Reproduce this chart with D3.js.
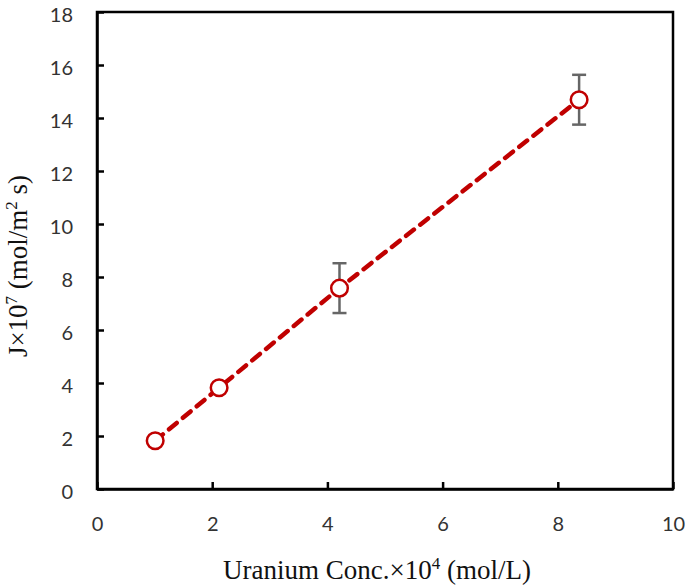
<!DOCTYPE html>
<html><head><meta charset="utf-8">
<script src="https://cdn.jsdelivr.net/npm/d3@7"></script>
<style>body{margin:0;background:#fff}</style>
</head><body>
<svg id="c" width="685" height="587"></svg>
<script>
const xValues = [1.01, 2.12, 4.21, 8.37];
const yValues = [1.82, 3.82, 7.58, 14.69];
const yErrors = [0, 0, 0.94, 0.94];
const xTicks = [0, 2, 4, 6, 8, 10];
const yTicks = [0, 2, 4, 6, 8, 10, 12, 14, 16, 18];

const svg = d3.select('#c');
const L = 97, R = 673, T = 12, B = 489;
const x = d3.scaleLinear().domain([0, 10]).range([L, R]);
const y = d3.scaleLinear().domain([0, 18]).range([B, T]);

// frame
svg.append('rect').attr('x', L).attr('y', T).attr('width', R - L).attr('height', B - T)
  .attr('fill', 'none').attr('stroke', '#000').attr('stroke-width', 2.5);

const tickFont = 'Lato, "Open Sans", sans-serif';
const xAxis = svg.append('g').attr('transform', `translate(0,${B})`)
  .call(d3.axisBottom(x).tickValues(xTicks).tickSize(-7).tickPadding(28).tickSizeOuter(0));
const yAxis = svg.append('g').attr('transform', `translate(${L},0)`)
  .call(d3.axisLeft(y).tickValues(yTicks).tickSize(-7).tickPadding(24).tickSizeOuter(0));
[xAxis, yAxis].forEach(g => {
  g.select('.domain').attr('stroke', '#000').attr('stroke-width', 2.5);
  g.selectAll('.tick line').attr('stroke', '#000').attr('stroke-width', 2.5);
  g.selectAll('.tick text').attr('fill', '#333').style('font-family', tickFont).style('font-size', '20px');
});
yAxis.selectAll('.tick text').attr('dy', '0.45em');

// line
const pts = xValues.map((d, i) => [d, yValues[i]]);
svg.append('path').datum(pts)
  .attr('d', d3.line().x(d => x(d[0])).y(d => y(d[1])))
  .attr('fill', 'none').attr('stroke', '#C00000').attr('stroke-width', 4.5)
  .attr('stroke-dasharray', '10,8').attr('stroke-linecap', 'round');

// error bars
const eb = svg.append('g').attr('stroke', '#666').attr('stroke-width', 2.5);
xValues.forEach((xv, i) => {
  if (!yErrors[i]) return;
  const cx = x(xv), y1 = y(yValues[i] + yErrors[i]), y2 = y(yValues[i] - yErrors[i]);
  eb.append('line').attr('x1', cx).attr('x2', cx).attr('y1', y1).attr('y2', y2);
  eb.append('line').attr('x1', cx - 7).attr('x2', cx + 7).attr('y1', y1).attr('y2', y1);
  eb.append('line').attr('x1', cx - 7).attr('x2', cx + 7).attr('y1', y2).attr('y2', y2);
});

// markers
svg.append('g').selectAll('circle').data(pts).join('circle')
  .attr('cx', d => x(d[0])).attr('cy', d => y(d[1])).attr('r', 8.3)
  .attr('fill', '#fff').attr('stroke', '#C00000').attr('stroke-width', 2.5);

// titles
const serif = '"Liberation Serif", "Times New Roman", serif';
const xt = svg.append('text').attr('x', 377).attr('y', 579).attr('text-anchor', 'middle')
  .style('font-family', serif).style('font-size', '27px').attr('fill', '#111');
xt.append('tspan').text('Uranium Conc.×10');
xt.append('tspan').text('4').attr('dy', -10).style('font-size', '17px');
xt.append('tspan').text(' (mol/L)').attr('dy', 10);

const yt = svg.append('text').attr('transform', 'translate(27,266) rotate(-90)').attr('text-anchor', 'middle')
  .style('font-family', serif).style('font-size', '27px').attr('fill', '#111');
yt.append('tspan').text('J×10');
yt.append('tspan').text('7').attr('dy', -10).style('font-size', '17px');
yt.append('tspan').text(' (mol/m').attr('dy', 10);
yt.append('tspan').text('2').attr('dy', -10).style('font-size', '17px');
yt.append('tspan').text(' s)').attr('dy', 10);
</script>
</body></html>
